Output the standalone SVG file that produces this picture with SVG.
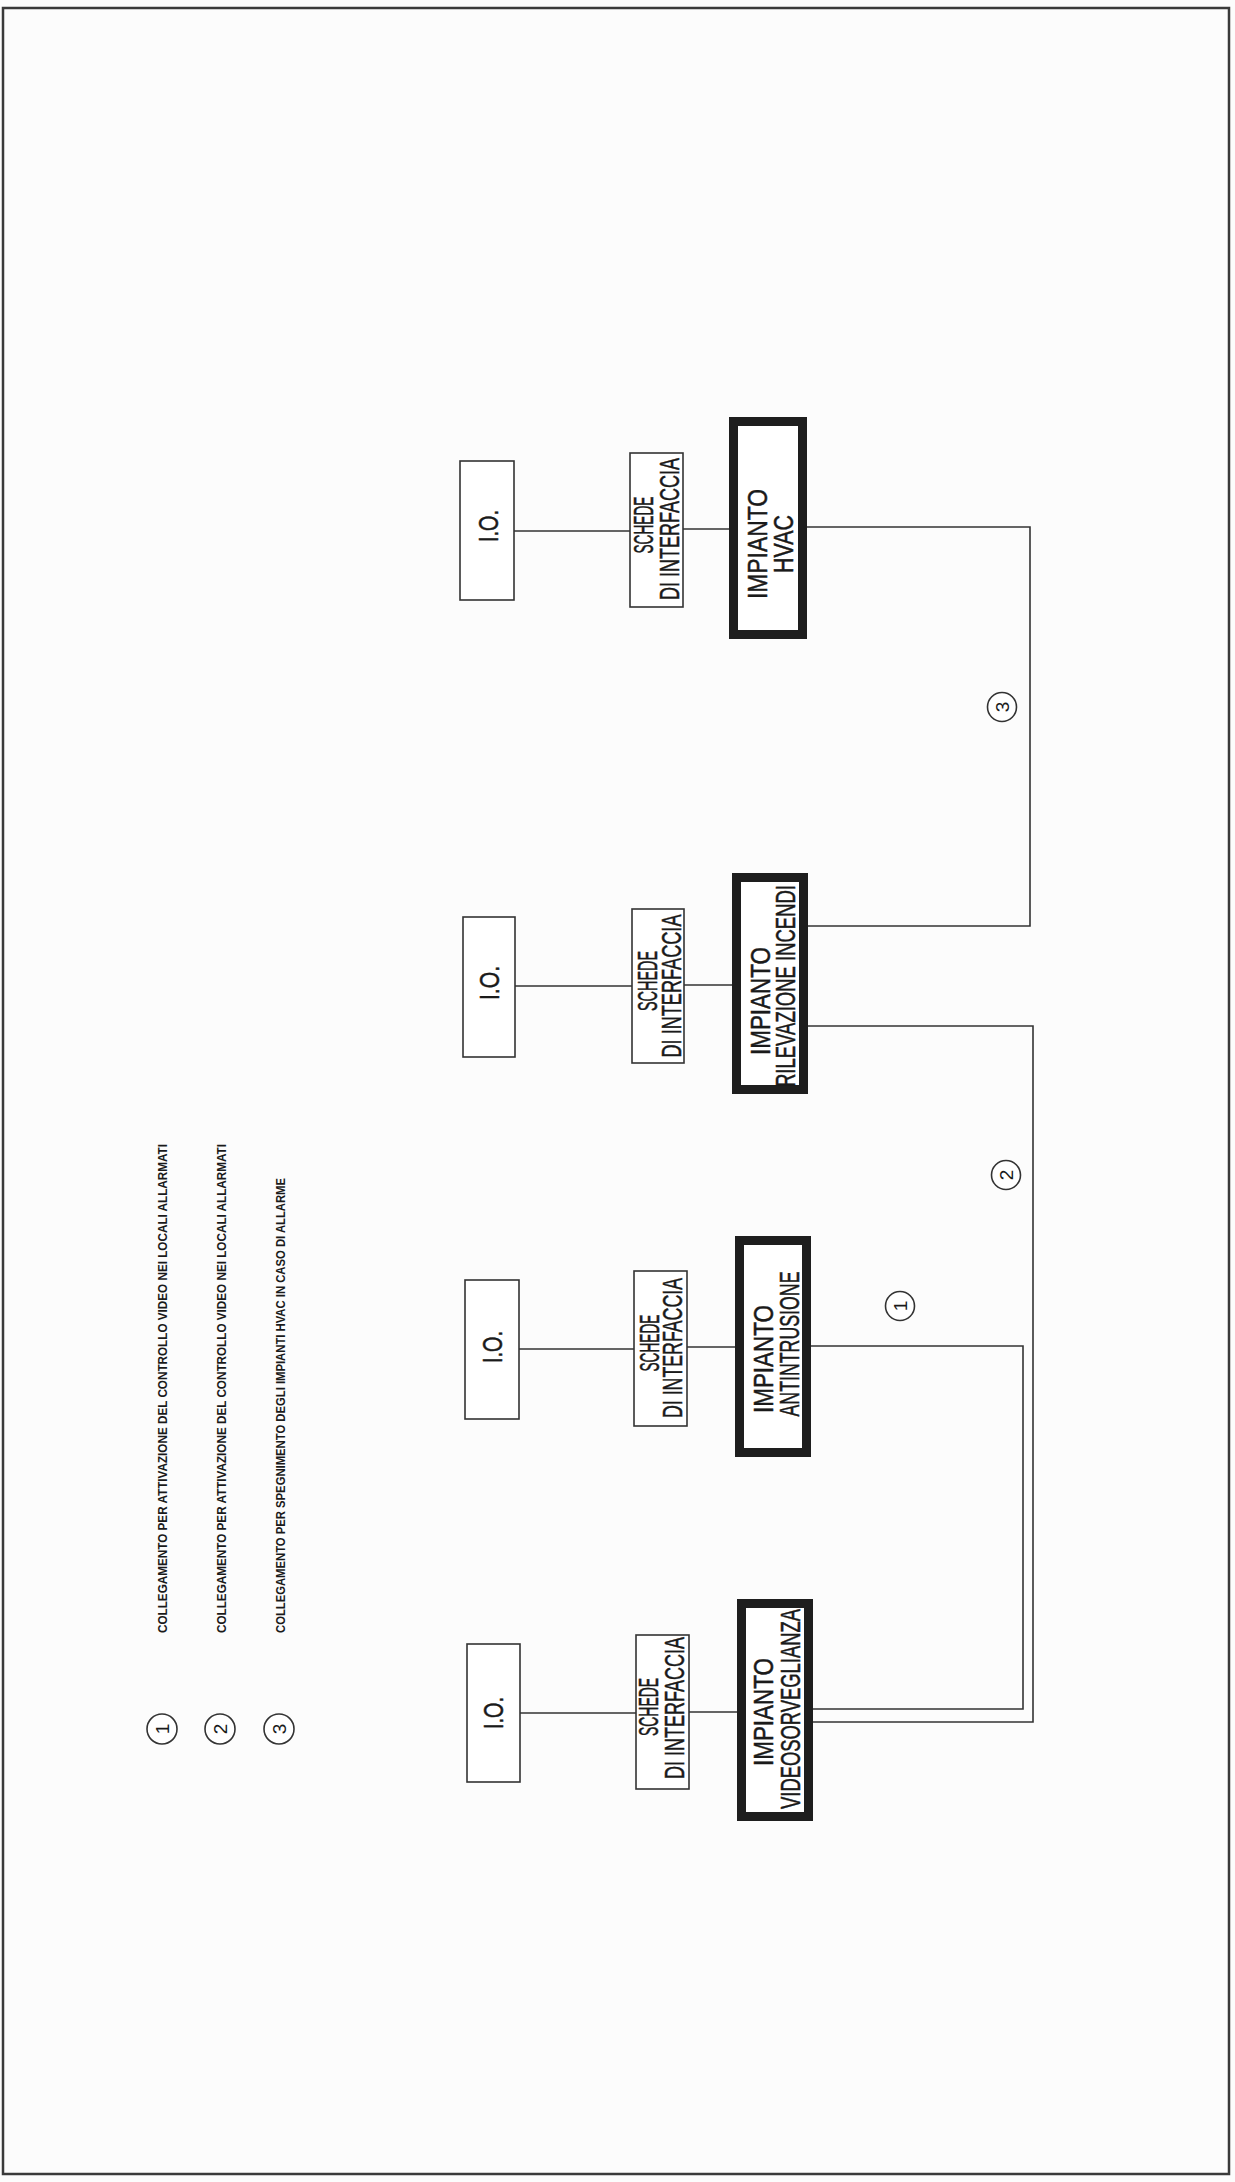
<svg xmlns="http://www.w3.org/2000/svg" width="1235" height="2182" viewBox="0 0 1235 2182">
<style>
.bg{fill:#fcfcfc}
.frame{fill:none;stroke:#3a3a3a;stroke-width:2.5}
.box{fill:#ffffff;stroke:#333;stroke-width:1.6}
.thick{fill:#ffffff;stroke:#1e1e1e;stroke-width:9}
.ln{fill:none;stroke:#333;stroke-width:1.6}
.t{font-family:"Liberation Sans",Arial,sans-serif;font-size:27px;fill:#1a1a1a;stroke:#1a1a1a;stroke-width:0.5;text-anchor:middle}
.lg{font-family:"Liberation Sans",Arial,sans-serif;font-size:12px;font-weight:bold;fill:#1a1a1a;text-anchor:start}
.num{font-family:"Liberation Sans",Arial,sans-serif;font-size:19px;fill:#1a1a1a;text-anchor:middle}
.circ{fill:#ffffff;stroke:#333;stroke-width:1.6}
</style>
<rect class="bg" x="0" y="0" width="1235" height="2182"/>
<rect class="frame" x="3" y="8" width="1226" height="2166"/>

<g id="connectors">
<path class="ln" d="M514 531 H630"/>
<path class="ln" d="M683 529 H729"/>
<path class="ln" d="M515 986 H632"/>
<path class="ln" d="M684 985 H732"/>
<path class="ln" d="M519 1349 H634"/>
<path class="ln" d="M687 1347 H735"/>
<path class="ln" d="M520 1713 H636"/>
<path class="ln" d="M689 1712 H737"/>
<path id="conn3" class="ln" d="M807 527 H1030 V926 H808"/>
<path id="conn2" class="ln" d="M808 1026 H1033 V1722 H813"/>
<path id="conn1" class="ln" d="M811 1346 H1023 V1709 H813"/>
</g>

<g id="label-3"><circle class="circ" cx="1002" cy="707" r="14.5"/><text class="num" transform="translate(1009 707) rotate(-90)">3</text></g>
<g id="label-2"><circle class="circ" cx="1006" cy="1175" r="14.5"/><text class="num" transform="translate(1013 1175) rotate(-90)">2</text></g>
<g id="label-1"><circle class="circ" cx="900" cy="1306" r="14.5"/><text class="num" transform="translate(907 1306) rotate(-90)">1</text></g>

<!-- HVAC row -->
<g id="io-hvac"><rect class="box" x="460" y="461" width="54" height="139"/><text class="t" transform="translate(498 526) rotate(-90)" textLength="32" lengthAdjust="spacingAndGlyphs">I.O.</text></g>
<g id="schede-hvac"><rect class="box" x="630" y="453" width="53" height="154"/><text class="t" transform="translate(653 525) rotate(-90)" textLength="57" lengthAdjust="spacingAndGlyphs">SCHEDE</text><text class="t" transform="translate(679 529) rotate(-90)" textLength="142" lengthAdjust="spacingAndGlyphs">DI INTERFACCIA</text></g>
<g id="impianto-hvac"><rect class="thick" x="733.5" y="421.5" width="69" height="213"/><text class="t" transform="translate(767 544) rotate(-90)" textLength="110" lengthAdjust="spacingAndGlyphs">IMPIANTO</text><text class="t" transform="translate(793 544) rotate(-90)" textLength="58" lengthAdjust="spacingAndGlyphs">HVAC</text></g>

<!-- Rilevazione row -->
<g id="io-ril"><rect class="box" x="463" y="917" width="52" height="140"/><text class="t" transform="translate(499 983) rotate(-90)" textLength="34" lengthAdjust="spacingAndGlyphs">I.O.</text></g>
<g id="schede-ril"><rect class="box" x="632" y="909" width="52" height="154"/><text class="t" transform="translate(657 981) rotate(-90)" textLength="60" lengthAdjust="spacingAndGlyphs">SCHEDE</text><text class="t" transform="translate(681 986) rotate(-90)" textLength="143" lengthAdjust="spacingAndGlyphs">DI INTERFACCIA</text></g>
<g id="impianto-ril"><rect class="thick" x="736.5" y="877.5" width="67" height="212"/><text class="t" transform="translate(770 1001) rotate(-90)" textLength="108" lengthAdjust="spacingAndGlyphs">IMPIANTO</text><text class="t" transform="translate(795 986) rotate(-90)" textLength="202" lengthAdjust="spacingAndGlyphs">RILEVAZIONE  INCENDI</text></g>

<!-- Antintrusione row -->
<g id="io-anti"><rect class="box" x="465" y="1280" width="54" height="139"/><text class="t" transform="translate(502 1347) rotate(-90)" textLength="32" lengthAdjust="spacingAndGlyphs">I.O.</text></g>
<g id="schede-anti"><rect class="box" x="634" y="1271" width="53" height="155"/><text class="t" transform="translate(659 1343) rotate(-90)" textLength="57" lengthAdjust="spacingAndGlyphs">SCHEDE</text><text class="t" transform="translate(682 1348) rotate(-90)" textLength="140" lengthAdjust="spacingAndGlyphs">DI INTERFACCIA</text></g>
<g id="impianto-anti"><rect class="thick" x="739.5" y="1240.5" width="67" height="212"/><text class="t" transform="translate(773 1359) rotate(-90)" textLength="108" lengthAdjust="spacingAndGlyphs">IMPIANTO</text><text class="t" transform="translate(799 1344) rotate(-90)" textLength="145" lengthAdjust="spacingAndGlyphs">ANTINTRUSIONE</text></g>

<!-- Videosorveglianza row -->
<g id="io-video"><rect class="box" x="467" y="1644" width="53" height="138"/><text class="t" transform="translate(503 1713) rotate(-90)" textLength="32" lengthAdjust="spacingAndGlyphs">I.O.</text></g>
<g id="schede-video"><rect class="box" x="636" y="1635" width="53" height="154"/><text class="t" transform="translate(658 1707) rotate(-90)" textLength="58" lengthAdjust="spacingAndGlyphs">SCHEDE</text><text class="t" transform="translate(684 1708) rotate(-90)" textLength="142" lengthAdjust="spacingAndGlyphs">DI INTERFACCIA</text></g>
<g id="impianto-video"><rect class="thick" x="741.5" y="1603.5" width="67" height="213"/><text class="t" transform="translate(773 1712) rotate(-90)" textLength="108" lengthAdjust="spacingAndGlyphs">IMPIANTO</text><text class="t" transform="translate(800 1709) rotate(-90)" textLength="200" lengthAdjust="spacingAndGlyphs">VIDEOSORVEGLIANZA</text></g>

<!-- Legend -->
<g id="legend-1"><circle class="circ" cx="162" cy="1729" r="15"/><text class="num" transform="translate(169 1729) rotate(-90)">1</text><text class="lg" transform="translate(167 1633) rotate(-90)" textLength="489" lengthAdjust="spacingAndGlyphs">COLLEGAMENTO  PER ATTIVAZIONE DEL CONTROLLO VIDEO  NEI LOCALI ALLARMATI</text></g>
<g id="legend-2"><circle class="circ" cx="220" cy="1729" r="15"/><text class="num" transform="translate(227 1729) rotate(-90)">2</text><text class="lg" transform="translate(226 1633) rotate(-90)" textLength="489" lengthAdjust="spacingAndGlyphs">COLLEGAMENTO  PER ATTIVAZIONE DEL CONTROLLO VIDEO  NEI LOCALI ALLARMATI</text></g>
<g id="legend-3"><circle class="circ" cx="279" cy="1729" r="15"/><text class="num" transform="translate(286 1729) rotate(-90)">3</text><text class="lg" transform="translate(285 1633) rotate(-90)" textLength="455" lengthAdjust="spacingAndGlyphs">COLLEGAMENTO  PER SPEGNIMENTO DEGLI IMPIANTI HVAC IN CASO DI ALLARME</text></g>
</svg>
